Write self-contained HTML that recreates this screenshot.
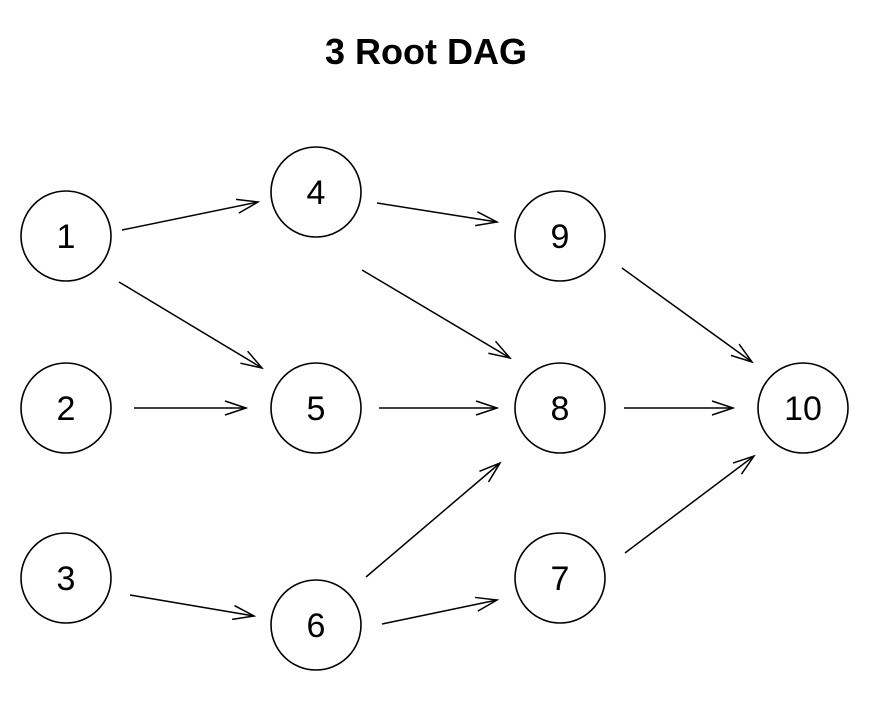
<!DOCTYPE html>
<html><head><meta charset="utf-8"><style>body{margin:0;background:#fff}</style></head>
<body>
<svg width="876" height="702" xmlns="http://www.w3.org/2000/svg">
<defs><marker id="a" markerWidth="24" markerHeight="16" refX="22" refY="8" orient="auto" markerUnits="userSpaceOnUse"><path d="M1,1 L22,8 L1,15" fill="none" stroke="#000" stroke-width="1.5"/></marker></defs>
<text x="426" y="64" text-anchor="middle" font-family="Liberation Sans, sans-serif" font-weight="bold" font-size="36">3 Root DAG</text>
<g fill="none" stroke="#000" stroke-width="1.6">
<circle cx="66" cy="236" r="45"/><circle cx="66" cy="408" r="45"/><circle cx="66" cy="578" r="45"/>
<circle cx="316" cy="192" r="45"/><circle cx="316" cy="408" r="45"/><circle cx="316" cy="625" r="45"/>
<circle cx="560" cy="236" r="45"/><circle cx="560" cy="408" r="45"/><circle cx="560" cy="578" r="45"/>
<circle cx="803" cy="408" r="45"/>
</g>
<g stroke="#000" stroke-width="1.5" marker-end="url(#a)">
<line x1="122" y1="230" x2="258" y2="202"/>
<line x1="119" y1="282" x2="262" y2="368"/>
<line x1="134" y1="408" x2="246" y2="408"/>
<line x1="130" y1="595" x2="254" y2="616"/>
<line x1="377" y1="203" x2="497" y2="222"/>
<line x1="362" y1="270" x2="510" y2="358"/>
<line x1="379" y1="408" x2="497" y2="408"/>
<line x1="366" y1="577" x2="500" y2="463"/>
<line x1="382" y1="624" x2="497" y2="600"/>
<line x1="622" y1="268" x2="752" y2="362"/>
<line x1="624" y1="408" x2="733" y2="408"/>
<line x1="625" y1="553" x2="754" y2="456"/>
</g>
<g font-family="Liberation Sans, sans-serif" font-size="34" text-anchor="middle">
<text x="66" y="248">1</text><text x="66" y="420">2</text><text x="66" y="590">3</text>
<text x="316" y="204">4</text><text x="316" y="420">5</text><text x="316" y="637">6</text>
<text x="560" y="248">9</text><text x="560" y="420">8</text><text x="560" y="590">7</text>
<text x="803" y="420">10</text>
</g>
</svg>
</body></html>
